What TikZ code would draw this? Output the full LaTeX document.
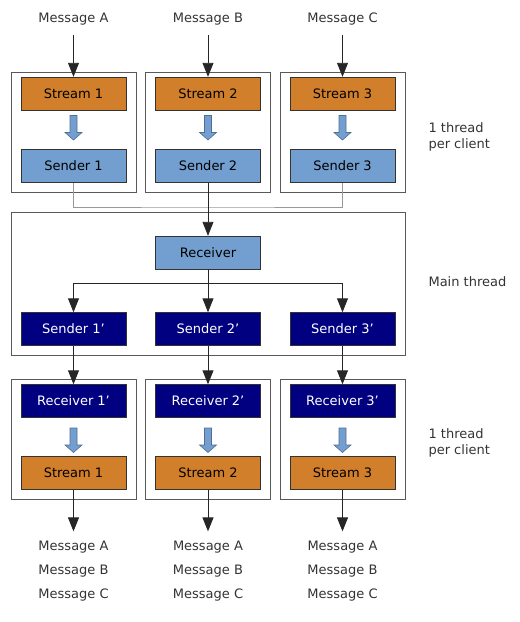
\documentclass[tikz,border=0pt]{standalone}
\usepackage{fontspec}
\setmainfont{DejaVu Sans}
\usetikzlibrary{arrows.meta}
\definecolor{streamorange}{HTML}{D27F2C}
\definecolor{skyblue}{HTML}{729FCF}
\definecolor{navy}{HTML}{000080}
\tikzset{>={Triangle[length=14pt,width=11pt]}}
\tikzset{box/.style = {draw=black!80, minimum width=105pt, minimum height=33pt,
inner sep=0pt, font=\fontsize{13}{15}\selectfont},
stream/.style = {box, fill=streamorange},
sender/.style = {box, fill=skyblue},
remote/.style = {box, fill=navy, text=white},
thread/.style = {draw=black!65, minimum width=125pt, minimum height=120pt},
msg/.style = {text=black!80, font=\fontsize{13}{15}\selectfont},
note/.style = {text=black!80, font=\fontsize{13}{16}\selectfont, align=left, anchor=west},
wire/.style = {draw=black!85, line width=0.9pt},
gatherline/.style = {draw=black!40, line width=0.9pt},
flow/.pic = {\draw[fill=skyblue, draw=skyblue!70!black, line width=0.6pt]
(-3.5,-12) -- (3.5,-12) -- (3.5,5) -- (8.5,5) -- (0,12.5) -- (-8.5,5) -- (-3.5,5) -- cycle;}}

\begin{document}
\begin{tikzpicture}[x=1pt,y=-1pt]
                \useasboundingbox (0,0) rectangle (520,622);

                % thread boxes
                \node[thread] (t1) at (73.5,132) {};
                \node[thread] (t2) at (208,132) {};
                \node[thread] (t3) at (342.5,132) {};
                \node[thread, minimum width=394pt, minimum height=143pt] (main) at (208,283.5) {};
                \node[thread] (u1) at (73.5,439) {};
                \node[thread] (u2) at (208,439) {};
                \node[thread] (u3) at (342.5,439) {};

                % incoming messages
                \node[msg] (ma) at (73.5,19) {Message A};
                \node[msg] (mb) at (208,19) {Message B};
                \node[msg] (mc) at (342.5,19) {Message C};

                \node[stream] (st1) at (73.5,93.5) {Stream 1};
                \node[stream] (st2) at (208,93.5) {Stream 2};
                \node[stream] (st3) at (342.5,93.5) {Stream 3};
                \node[sender] (sd1) at (73.5,166) {Sender 1};
                \node[sender] (sd2) at (208,166) {Sender 2};
                \node[sender] (sd3) at (342.5,166) {Sender 3};

                \node[sender] (rc) at (208,252.5) {Receiver};
                \node[remote] (sp1) at (73.5,329) {Sender 1’};
                \node[remote] (sp2) at (208,329) {Sender 2’};
                \node[remote] (sp3) at (342.5,329) {Sender 3’};

                \node[remote] (rp1) at (73.5,401) {Receiver 1’};
                \node[remote] (rp2) at (208,401) {Receiver 2’};
                \node[remote] (rp3) at (342.5,401) {Receiver 3’};
                \node[stream] (sb1) at (73.5,473) {Stream 1};
                \node[stream] (sb2) at (208,473) {Stream 2};
                \node[stream] (sb3) at (342.5,473) {Stream 3};

                % outgoing messages
                \node[msg] (oa1) at (73.5,547) {Message A};
                \node[msg] (ob1) at (73.5,571) {Message B};
                \node[msg] (oc1) at (73.5,595) {Message C};
                \node[msg] (oa2) at (208,547) {Message A};
                \node[msg] (ob2) at (208,571) {Message B};
                \node[msg] (oc2) at (208,595) {Message C};
                \node[msg] (oa3) at (342.5,547) {Message A};
                \node[msg] (ob3) at (342.5,571) {Message B};
                \node[msg] (oc3) at (342.5,595) {Message C};

                \node[note] (n1) at (425,137) {1 thread\\per client};
                \node[note] (n2) at (425,282) {Main thread};
                \node[note] (n3) at (425,443) {1 thread\\per client};

                \pic at (73.5,127.5) {flow};
                \pic at (208,127.5) {flow};
                \pic at (342.5,127.5) {flow};
                \pic at (73.5,440) {flow};
                \pic at (208,440) {flow};
                \pic at (342.5,440) {flow};

                \coordinate (gather) at (208,207);
                \coordinate (fork) at (208,283);

                \draw[wire,->,shorten <=6pt] (ma) -- (st1);
                \draw[wire,->,shorten <=6pt] (mb) -- (st2);
                \draw[wire,->,shorten <=6pt] (mc) -- (st3);
                \draw[gatherline] (sd1.south) |- (gather) -| (sd3.south);
                \draw[wire,->] (sd2) -- (rc);
                \draw[wire] (rc) -- (fork);
                \draw[wire,->] (fork) -| (sp1);
                \draw[wire,->] (rc) -- (sp2);
                \draw[wire,->] (fork) -| (sp3);
                \draw[wire,->] (sp1) -- (rp1);
                \draw[wire,->] (sp2) -- (rp2);
                \draw[wire,->] (sp3) -- (rp3);
                \draw[wire,->,shorten >=6pt] (sb1) -- (oa1);
                \draw[wire,->,shorten >=6pt] (sb2) -- (oa2);
                \draw[wire,->,shorten >=6pt] (sb3) -- (oa3);
            \end{tikzpicture}
\end{document}
